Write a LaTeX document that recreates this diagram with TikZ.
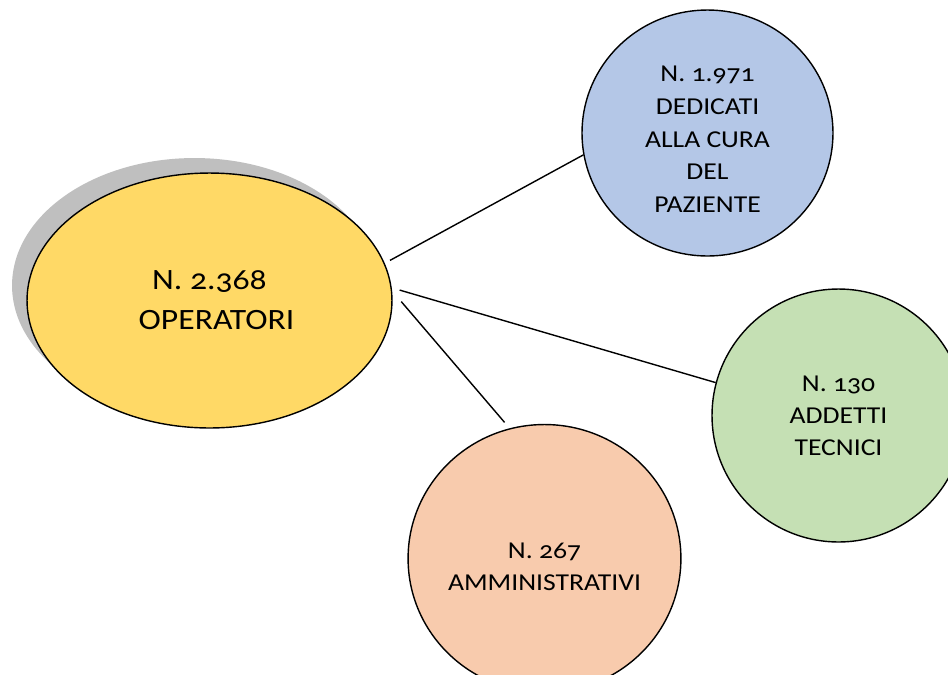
\documentclass[tikz,border=0pt]{standalone}
\usepackage{fontspec}
\setmainfont{Carlito}[Numbers=OldStyle,FakeStretch=1.14]
\usepackage{xcolor}
\usepackage{tikz}
\usetikzlibrary{shapes.geometric,shadows}
\definecolor{opgold}{HTML}{FFD966}
\definecolor{curablue}{HTML}{B4C7E7}
\definecolor{tecgreen}{HTML}{C5E0B4}
\definecolor{ammpeach}{HTML}{F8CBAD}

\begin{document}
\begin{tikzpicture}[x=0.02cm,y=-0.02cm,line width=0.8pt,
 bubble/.style={draw,ellipse,inner sep=0pt,align=center,font=\fontsize{13.8}{18.2}\selectfont}]
 \useasboundingbox (0,0) rectangle (948,674);
 \node[bubble,fill=opgold,minimum width=7.3cm,minimum height=5.1cm,
 font=\fontsize{16.8}{22.7}\selectfont,
 drop shadow={shadow xshift=-0.3cm,shadow yshift=0.3cm,fill=black!25,opacity=1}] (op)
 at (209.5,300.5) {N. 2.368\\ \hspace*{8pt}OPERATORI};
 \node[bubble,fill=curablue,minimum width=5.02cm,minimum height=4.92cm,
 font=\fontsize{13.8}{18.6}\selectfont] (cura)
 at (707.5,133) {\rule{0pt}{16pt}N. 1.971\\DEDICATI\\ALLA CURA\\DEL\\PAZIENTE};
 \node[bubble,fill=tecgreen,minimum width=5.06cm,minimum height=5.06cm] (tec)
 at (838.5,415.5) {N. 130\\ADDETTI\\TECNICI};
 \node[bubble,fill=ammpeach,minimum width=5.36cm,minimum height=5.36cm] (amm)
 at (544.5,558.5) {\rule{0pt}{18pt}N. 267\\AMMINISTRATIVI};
 \draw[shorten <=3.4pt] (op.12) -- (cura.190);
 \draw[shorten <=4.7pt] (op.4) -- (tec.165);
 \draw[shorten <=8pt,shorten >=4.4pt] (op.3) -- (amm.105);
\end{tikzpicture}
\end{document}
